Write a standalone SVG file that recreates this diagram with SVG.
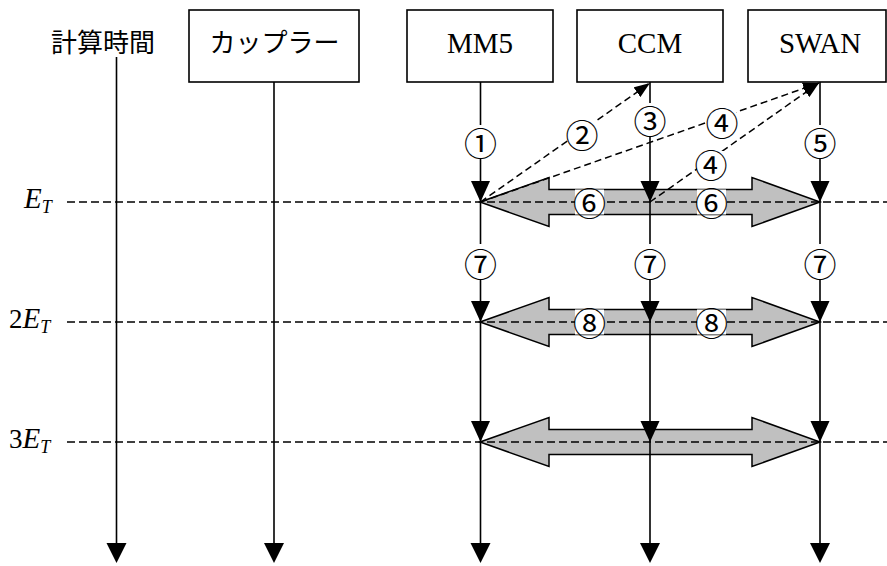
<svg xmlns="http://www.w3.org/2000/svg" xmlns:xlink="http://www.w3.org/1999/xlink" width="887" height="566" viewBox="0 0 887 566">
  <style>
    .box { fill: #fff; stroke: #000; stroke-width: 1.6; }
    .life { stroke: #000; stroke-width: 1.6; fill: none; }
    .tick { stroke: #000; stroke-width: 1.5; stroke-dasharray: 8 4; fill: none; }
    .msg { stroke: #000; stroke-width: 1.5; stroke-dasharray: 7 4; fill: none; }
    .head { fill: #000; }
    .band { fill: #c0c0c0; stroke: #000; stroke-width: 1.5; stroke-linejoin: miter; }
    .jp { font-family: "Noto Sans CJK JP", sans-serif; font-size: 26px; fill: #000; }
    .en { font-family: "Liberation Serif", serif; font-size: 29px; fill: #000; }
    .num { font-family: "Noto Sans CJK JP", sans-serif; font-size: 33px; fill: #000; text-anchor: middle; dominant-baseline: central; }
    .math { font-family: "Liberation Serif", serif; font-size: 27px; fill: #000; }
    .bg { fill: #fff; }
  </style>
  <defs>
    <!-- exchange band between the three models -->
    <polygon id="band" points="480,0 549,-24.5 549,-12.5 752,-12.5 752,-24.5 820,0 752,24.5 752,12.5 549,12.5 549,24.5"/>
    <marker id="tip" viewBox="0 0 16 12" refX="16" refY="6" markerWidth="16" markerHeight="12" markerUnits="userSpaceOnUse" orient="auto">
      <path d="M0,0 L16,6 L0,12 Z" fill="#000"/>
    </marker>
  </defs>

  <rect width="887" height="566" fill="#fff"/>

  <!-- headers -->
  <g id="time">
    <text class="jp" x="103" y="52" text-anchor="middle">計算時間</text>
  </g>
  <g id="coupler">
    <rect class="box" x="189" y="10" width="170" height="72"/>
    <text class="jp" x="274.5" y="52" text-anchor="middle">カップラー</text>
  </g>
  <g id="mm5">
    <rect class="box" x="407" y="10" width="146" height="72"/>
    <text class="en" x="480" y="53" text-anchor="middle">MM5</text>
  </g>
  <g id="ccm">
    <rect class="box" x="577" y="10" width="146" height="72"/>
    <text class="en" x="650" y="53" text-anchor="middle">CCM</text>
  </g>
  <g id="swan">
    <rect class="box" x="748" y="10" width="138" height="72"/>
    <text class="en" x="820" y="53" text-anchor="middle">SWAN</text>
  </g>

  <!-- time step labels -->
  <g id="steps">
    <text class="math" x="24" y="208"><tspan font-style="italic" font-size="29">E</tspan><tspan font-style="italic" font-size="18" dy="5">T</tspan></text>
    <text class="math" x="9" y="328">2<tspan font-style="italic" font-size="29">E</tspan><tspan font-style="italic" font-size="18" dy="5">T</tspan></text>
    <text class="math" x="9" y="448">3<tspan font-style="italic" font-size="29">E</tspan><tspan font-style="italic" font-size="18" dy="5">T</tspan></text>
  </g>

  <g id="connectors">
    <!-- data exchange bands -->
    <use xlink:href="#band" class="band" transform="translate(0,202)"/>
    <use xlink:href="#band" class="band" transform="translate(0,322)"/>
    <use xlink:href="#band" class="band" transform="translate(0,442)"/>

    <!-- synchronisation lines -->
    <line class="tick" x1="67" y1="202" x2="887" y2="202"/>
    <line class="tick" x1="67" y1="322" x2="887" y2="322"/>
    <line class="tick" x1="67" y1="442" x2="887" y2="442"/>

    <!-- lifelines -->
    <line class="life" x1="116.5" y1="57" x2="116.5" y2="545"/>
    <line class="life" x1="274" y1="82" x2="274" y2="545"/>
    <line class="life" x1="480.5" y1="82" x2="480.5" y2="545"/>
    <line class="life" x1="650" y1="82" x2="650" y2="545"/>
    <line class="life" x1="820" y1="82" x2="820" y2="545"/>

    <!-- arrowheads on lifelines -->
    <g class="head">
      <polygon points="106.5,543 126.5,543 116.5,563"/>
      <polygon points="264,543 284,543 274,563"/>
      <polygon points="470.5,543 490.5,543 480.5,563"/>
      <polygon points="640,543 660,543 650,563"/>
      <polygon points="810,543 830,543 820,563"/>

      <polygon points="471,181 490,181 480.5,202"/>
      <polygon points="640.5,181 659.5,181 650,202"/>
      <polygon points="810.5,181 829.5,181 820,202"/>
      <polygon points="471,301 490,301 480.5,322"/>
      <polygon points="640.5,301 659.5,301 650,322"/>
      <polygon points="810.5,301 829.5,301 820,322"/>
      <polygon points="471,421 490,421 480.5,442"/>
      <polygon points="640.5,421 659.5,421 650,442"/>
      <polygon points="810.5,421 829.5,421 820,442"/>
    </g>

    <!-- requests sent back to the boxes -->
    <line class="msg" x1="480.5" y1="202" x2="650" y2="83" marker-end="url(#tip)"/>
    <line class="msg" x1="480.5" y1="202" x2="819" y2="83" marker-end="url(#tip)"/>
    <line class="msg" x1="650" y1="202" x2="819" y2="83" marker-end="url(#tip)"/>
  </g>

  <!-- step numbers -->
  <g id="labels">
    <rect class="bg" x="467" y="125" width="27" height="34"/>
    <text class="num" x="480.5" y="142">①</text>
    <rect class="bg" x="568" y="121" width="28" height="26"/>
    <text class="num" x="582" y="133.5">②</text>
    <rect class="bg" x="637" y="103" width="27" height="33"/>
    <text class="num" x="650" y="119.5">③</text>
    <rect class="bg" x="708" y="109" width="28" height="26"/>
    <text class="num" x="722" y="122">④</text>
    <rect class="bg" x="697" y="151" width="28" height="26"/>
    <text class="num" x="711" y="164">④</text>
    <rect class="bg" x="807" y="125" width="27" height="34"/>
    <text class="num" x="820" y="142">⑤</text>

    <rect class="bg" x="575" y="189.5" width="29" height="25"/>
    <text class="num" x="589.5" y="202">⑥</text>
    <rect class="bg" x="697" y="189.5" width="29" height="25"/>
    <text class="num" x="711.5" y="202">⑥</text>

    <rect class="bg" x="467" y="244" width="27" height="36"/>
    <text class="num" x="480.5" y="262.5">⑦</text>
    <rect class="bg" x="637" y="244" width="27" height="36"/>
    <text class="num" x="650" y="262.5">⑦</text>
    <rect class="bg" x="807" y="244" width="27" height="36"/>
    <text class="num" x="820" y="262.5">⑦</text>

    <rect class="bg" x="575" y="309.5" width="29" height="25"/>
    <text class="num" x="589.5" y="322">⑧</text>
    <rect class="bg" x="697" y="309.5" width="29" height="25"/>
    <text class="num" x="711.5" y="322">⑧</text>
  </g>
</svg>
